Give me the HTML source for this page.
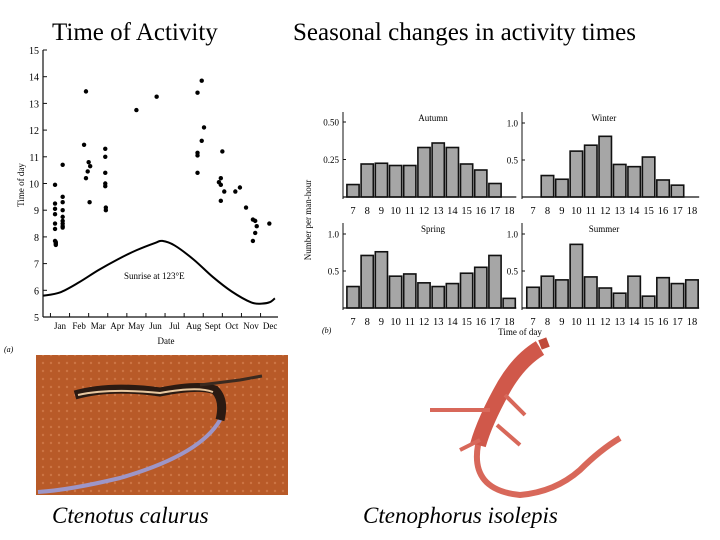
<!DOCTYPE html>
<html><head><meta charset="utf-8"><style>
body{margin:0;background:#fff;}
#root{position:relative;width:720px;height:540px;overflow:hidden;background:#fff;font-family:"Liberation Serif",serif;}
.t{position:absolute;font-size:25px;color:#000;white-space:nowrap;}
svg text{font-family:"Liberation Serif",serif;}
</style></head><body>
<div id="root">
<div class="t" style="left:52px;top:19px">Time of Activity</div>
<div class="t" style="left:293px;top:19px">Seasonal changes in activity times</div>
<div class="t" style="left:52px;top:503px;font-style:italic;font-size:23px">Ctenotus calurus</div>
<div class="t" style="left:363px;top:503px;font-style:italic;font-size:23px">Ctenophorus isolepis</div>
<svg id="chart" width="720" height="540" style="position:absolute;left:0;top:0">
<defs><pattern id="sand" width="8" height="8" patternUnits="userSpaceOnUse"><circle cx="3" cy="3" r="1.2" fill="#e09060"/></pattern></defs>
<g id="left"></g>
<g id="right"></g>
<g>
<rect x="36" y="355" width="252" height="140" fill="#b85a28"/>
<rect x="36" y="355" width="252" height="140" fill="url(#sand)" opacity="0.5"/>
<path d="M75 395 Q110 385 160 392 Q200 384 215 390 Q225 400 220 420 Q200 455 120 478 Q70 490 38 492" stroke="#9d96c8" stroke-width="4" fill="none"/>
<path d="M75 395 Q110 385 160 392 Q200 384 215 390 Q225 400 220 420" stroke="#2a1a12" stroke-width="9" fill="none"/>
<path d="M78 395 Q110 388 160 393 Q198 386 213 392" stroke="#e8c8a0" stroke-width="2" fill="none"/>
<path d="M200 385 L240 380 L262 376" stroke="#3a2a20" stroke-width="3" fill="none"/>
</g>
<g>
<path d="M540 348 Q520 360 505 385 Q485 420 478 445 Q470 490 520 495 Q555 492 580 470 Q600 450 620 438" stroke="#d8685a" stroke-width="6" fill="none"/>
<path d="M540 348 Q520 360 505 385 Q485 420 478 445" stroke="#d0584a" stroke-width="16" fill="none"/>
<path d="M540 345 L548 342" stroke="#c04a3a" stroke-width="10"/>
<path d="M490 410 L430 410 M505 395 L525 415 M480 440 L460 450 M497 425 L520 445" stroke="#d8685a" stroke-width="4"/>
</g>
</svg>
</div>
<script>
// ---- left scatter data ----
const months=["Jan","Feb","Mar","Apr","May","Jun","Jul","Aug","Sept","Oct","Nov","Dec"];
const hourTicks=[5,6,7,8,9,10,11,12,13,14,15];
const obsMonth=[-0.26,-0.26,-0.26,-0.26,-0.26,-0.26,-0.26,-0.22,-0.22,-0.22,0.14,0.14,0.14,0.14,0.14,0.14,0.14,0.14,0.14,1.26,1.36,1.36,1.45,1.5,1.58,1.55,2.37,2.37,2.37,2.37,2.37,2.4,2.4,4.0,5.06,7.2,7.2,7.2,7.2,7.42,7.42,7.54,8.32,8.42,8.42,8.42,8.5,8.6,9.18,9.42,9.74,10.1,10.1,10.22,10.22,10.3,10.96];
const obsHour=[9.95,9.25,9.05,8.85,8.5,8.3,7.85,7.8,7.75,7.7,10.7,9.5,9.3,9.0,8.75,8.6,8.5,8.4,8.35,11.45,13.45,10.2,10.45,10.8,10.65,9.3,11.3,11.0,10.4,10.0,9.9,9.1,9.0,12.75,13.25,11.15,11.05,10.4,13.4,13.85,11.6,12.1,10.05,10.2,9.95,9.35,11.2,9.7,9.7,9.85,9.1,8.65,7.85,8.6,8.15,8.4,8.5];
const sunMonth=[-0.87,0,1,2,3,4,5,5.36,6,7,8,9,10,10.56,11,11.25];
const sunHour=[5.8,5.92,6.3,6.75,7.15,7.5,7.78,7.85,7.68,7.15,6.5,5.95,5.55,5.5,5.56,5.7];
// ---- right histogram data ----
const hours=[7,8,9,10,11,12,13,14,15,16,17,18];
const autumn=[0.083,0.22,0.225,0.21,0.21,0.33,0.36,0.33,0.22,0.18,0.09,0];
const winter=[0,0.29,0.24,0.62,0.7,0.82,0.44,0.41,0.54,0.23,0.16,0];
const spring=[0.29,0.71,0.76,0.43,0.46,0.34,0.29,0.33,0.47,0.55,0.71,0.13];
const summer=[0.28,0.43,0.38,0.86,0.42,0.27,0.2,0.43,0.16,0.41,0.33,0.38];

const NS="http://www.w3.org/2000/svg";
function mk(parent,tag,attrs,text){const e=document.createElementNS(NS,tag);for(const k in attrs)e.setAttribute(k,attrs[k]);if(text!==undefined)e.textContent=text;parent.appendChild(e);return e;}
const L=document.getElementById('left');
const xM=m=>60+m*19.1, yH=h=>317-(h-5)*26.7;
let e;
e=mk(L,'line',{x1:43,y1:yH(15),x2:43,y2:yH(5),stroke:'#111','stroke-width':1.2});


e=mk(L,'line',{x1:43,y1:yH(5),x2:278,y2:yH(5),stroke:'#111','stroke-width':1.2});


hourTicks.forEach(h=>{
 mk(L,'line',{x1:43,y1:yH(h),x2:47,y2:yH(h),stroke:'#111'});
 e=mk(L,'text',{x:39,y:yH(h)+4,'font-size':10,'text-anchor':'end'},h);
 
 
});
months.forEach((m,i)=>{
 mk(L,'line',{x1:xM(i-0.5),y1:yH(5),x2:xM(i-0.5),y2:yH(5)-4,stroke:'#111'});
 e=mk(L,'text',{x:xM(i),y:329,'font-size':9,'text-anchor':'middle'},m);
 
 
});
e=mk(L,'text',{x:166,y:344,'font-size':9,'text-anchor':'middle'},'Date');


e=mk(L,'text',{x:24,y:185,'font-size':9,'text-anchor':'middle',transform:'rotate(-90 24 185)'},'Time of day');


mk(L,'text',{x:4,y:352,'font-size':8,'font-style':'italic'},'(a)');
obsMonth.forEach((m,i)=>{
 e=mk(L,'circle',{cx:xM(m),cy:yH(obsHour[i]),r:2.2,fill:'#000'});
 
 
});
let d='';
const pts=sunMonth.map((m,i)=>[xM(m),yH(sunHour[i])]);
d='M'+pts[0][0]+' '+pts[0][1];
for(let i=0;i<pts.length-1;i++){
 const p0=pts[Math.max(0,i-1)],p1=pts[i],p2=pts[i+1],p3=pts[Math.min(pts.length-1,i+2)];
 d+=` C${p1[0]+(p2[0]-p0[0])/6} ${p1[1]+(p2[1]-p0[1])/6} ${p2[0]-(p3[0]-p1[0])/6} ${p2[1]-(p3[1]-p1[1])/6} ${p2[0]} ${p2[1]}`;
}
e=mk(L,'path',{d:d,fill:'none',stroke:'#000','stroke-width':2});


e=mk(L,'text',{x:124,y:279,'font-size':9},'Sunrise at 123°E');



// right panels
const R=document.getElementById('right');
function panel(name,vals,ax,base,pxPerUnit,ticks,tickLbl,title,titleX,first,step){
 const g=mk(R,'g',{});
 
 
 const y=v=>base-v*pxPerUnit;
 vals.forEach((v,i)=>{
  const cx=first+i*step;
  if(v>0){
   e=mk(g,'rect',{x:cx-step/2+1,y:y(v),width:step-2,height:v*pxPerUnit,fill:'#a6a6a6',stroke:'#111','stroke-width':1.6});
   
   
  }
  e=mk(g,'text',{x:cx,y:base+17,'font-size':10.5,'text-anchor':'middle'},hours[i]);
  
  
 });
 mk(g,'line',{x1:ax,y1:base-85,x2:ax,y2:base+2,stroke:'#111','stroke-width':1});
 mk(g,'line',{x1:ax,y1:base,x2:first+11.5*step,y2:base,stroke:'#111','stroke-width':1.2});
 ticks.forEach((t,i)=>{
  mk(g,'line',{x1:ax,y1:y(t),x2:ax+3,y2:y(t),stroke:'#111'});
  e=mk(g,'text',{x:ax-4,y:y(t)+3.5,'font-size':9,'text-anchor':'end'},tickLbl[i]);
  
  
 });
 e=mk(g,'text',{x:titleX,y:base-76,'font-size':9,'text-anchor':'middle'},title);
 
 
}
panel('autumn',autumn,343,197,150,[0.25,0.5],['0.25','0.50'],'Autumn',433,353,14.2);
panel('winter',winter,522,197,74,[0.5,1.0],['0.5','1.0'],'Winter',604,533,14.45);
panel('spring',spring,343,308,74,[0.5,1.0],['0.5','1.0'],'Spring',433,353,14.2);
panel('summer',summer,522,308,74,[0.5,1.0],['0.5','1.0'],'Summer',604,533,14.45);
e=mk(R,'text',{x:311,y:220,'font-size':9,'text-anchor':'middle',transform:'rotate(-90 311 220)'},'Number per man-hour');


e=mk(R,'text',{x:520,y:335,'font-size':9,'text-anchor':'middle'},'Time of day');


mk(R,'text',{x:322,y:333,'font-size':8,'font-style':'italic'},'(b)');
</script>
</body></html>
